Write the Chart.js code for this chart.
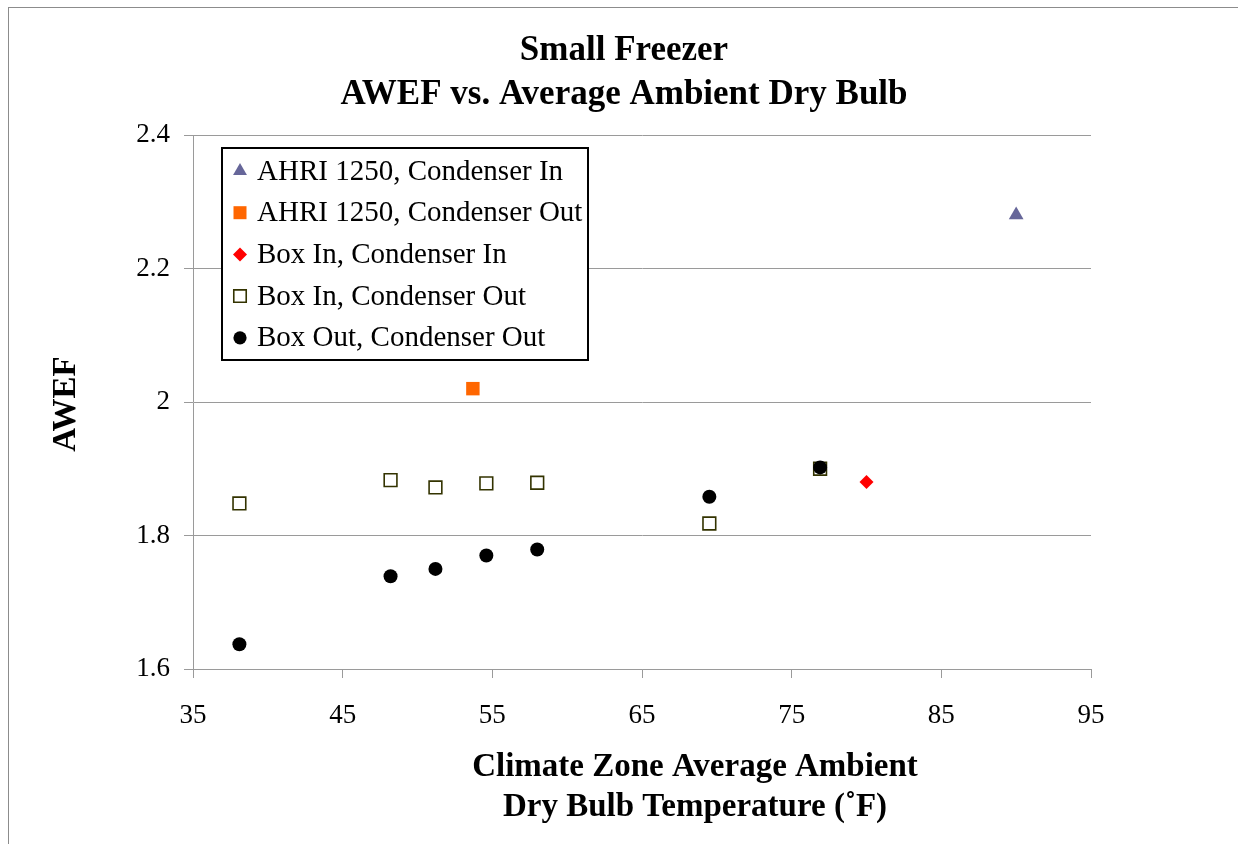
<!DOCTYPE html>
<html>
<head>
<meta charset="utf-8">
<script src="https://cdn.jsdelivr.net/npm/chart.js@4.4.1/dist/chart.umd.min.js"></script>
<style>
  html, body { margin: 0; padding: 0; background: #fff; overflow: hidden; }
  #frame { position: absolute; left: 8px; top: 7px; width: 1300px; height: 900px; border: 1px solid #8c8c8c; }
  #wrap { position: absolute; left: 0; top: 0; width: 1238px; height: 844px; }
</style>
</head>
<body>
<div id="frame"></div>
<div id="wrap"><canvas id="scatterChart" width="1238" height="844"></canvas></div>
<script>
// series values
const ahriInX = [90];
const ahriInY = [2.28];
const ahriOutX = [53.7];
const ahriOutY = [2.02];
const boxInCondInX = [80];
const boxInCondInY = [1.88];
const boxInCondOutX = [38.1, 48.2, 51.2, 54.6, 58.0, 69.5, 76.9];
const boxInCondOutY = [1.848, 1.883, 1.872, 1.878, 1.879, 1.818, 1.900];
const boxOutCondOutX = [38.1, 48.2, 51.2, 54.6, 58.0, 69.5, 76.9];
const boxOutCondOutY = [1.637, 1.739, 1.750, 1.770, 1.779, 1.858, 1.902];

const seriesLabels = [
    'AHRI 1250, Condenser In',
    'AHRI 1250, Condenser Out',
    'Box In, Condenser In',
    'Box In, Condenser Out',
    'Box Out, Condenser Out'
];
const titleLines = ['Small Freezer', 'AWEF vs. Average Ambient Dry Bulb'];
const xTitleLines = ['Climate Zone Average Ambient', 'Dry Bulb Temperature (\u02DAF)'];
const yTitle = 'AWEF';

const toPoints = (xs, ys) => xs.map((x, i) => ({ x: x, y: ys[i] }));

Chart.defaults.font.family = '"Liberation Serif", "Times New Roman", serif';
Chart.defaults.color = '#000';

const gridColor = '#9a9a9a';

const textPlugin = {
    id: 'texts',
    afterDraw(chart) {
        const ctx = chart.ctx;
        const area = chart.chartArea;
        ctx.save();
        ctx.fillStyle = '#000';
        ctx.textAlign = 'center';
        ctx.textBaseline = 'middle';
        ctx.font = 'bold 35px "Liberation Serif"';
        ctx.fillText(titleLines[0], 624, 51);
        ctx.fillText(titleLines[1], 624, 95);
        ctx.font = 'bold 33px "Liberation Serif"';
        ctx.fillText(xTitleLines[0], 695, 767);
        ctx.fillText(xTitleLines[1], 695, 807);
        ctx.save();
        ctx.translate(66, (area.top + area.bottom) / 2 + 2);
        ctx.rotate(-Math.PI / 2);
        ctx.fillText(yTitle, 0, 0);
        ctx.restore();

        // legend box
        const lx = 222, ly = 148, lw = 366, lh = 212;
        ctx.fillStyle = '#fff';
        ctx.fillRect(lx, ly, lw, lh);
        ctx.strokeStyle = '#000';
        ctx.lineWidth = 2;
        ctx.strokeRect(lx, ly, lw, lh);
        ctx.font = '29px "Liberation Serif"';
        ctx.textAlign = 'left';
        chart.data.datasets.forEach((ds, i) => {
            const cy = 171 + i * 41.7;
            ctx.fillStyle = ds.backgroundColor;
            ctx.strokeStyle = ds.borderColor;
            ctx.lineWidth = ds.borderWidth;
            Chart.helpers.drawPoint(ctx, {
                pointStyle: ds.pointStyle,
                radius: ds.legendRadius,
                rotation: 0,
                borderWidth: ds.borderWidth
            }, 240, cy);
            ctx.fillStyle = '#000';
            ctx.fillText(ds.label, 257, cy + 1);
        });
        ctx.restore();
    }
};

const ctx = document.getElementById('scatterChart').getContext('2d');
const chart = new Chart(ctx, {
    type: 'scatter',
    data: {
        datasets: [{
            label: seriesLabels[0],
            data: toPoints(ahriInX, ahriInY),
            pointStyle: 'triangle',
            pointRadius: 8.5,
            legendRadius: 8,
            backgroundColor: '#666699',
            borderColor: '#666699',
            borderWidth: 0,
            order: 2
        }, {
            label: seriesLabels[1],
            data: toPoints(ahriOutX, ahriOutY),
            pointStyle: 'rect',
            pointRadius: 9.5,
            legendRadius: 9.2,
            backgroundColor: '#ff6600',
            borderColor: '#ff6600',
            borderWidth: 0,
            order: 2
        }, {
            label: seriesLabels[2],
            data: toPoints(boxInCondInX, boxInCondInY),
            pointStyle: 'rectRot',
            pointRadius: 7,
            legendRadius: 7,
            backgroundColor: '#ff0000',
            borderColor: '#ff0000',
            borderWidth: 0,
            order: 2
        }, {
            label: seriesLabels[3],
            data: toPoints(boxInCondOutX, boxInCondOutY),
            pointStyle: 'rect',
            pointRadius: 9,
            legendRadius: 8.8,
            backgroundColor: '#ffffff',
            borderColor: '#333300',
            borderWidth: 1.6,
            order: 1
        }, {
            label: seriesLabels[4],
            data: toPoints(boxOutCondOutX, boxOutCondOutY),
            pointStyle: 'circle',
            pointRadius: 7,
            legendRadius: 6.6,
            backgroundColor: '#000000',
            borderColor: '#000000',
            borderWidth: 0,
            order: 0
        }]
    },
    options: {
        responsive: false,
        animation: false,
        layout: { padding: { top: 135, right: 147, left: 0, bottom: 0 } },
        scales: {
            x: {
                type: 'linear',
                position: 'bottom',
                min: 35,
                max: 95,
                afterFit(scale) { scale.height = 175; },
                ticks: { stepSize: 10, padding: 22, font: { size: 27 } },
                grid: { drawOnChartArea: false, drawTicks: true, tickLength: 9, color: gridColor },
                border: { display: true, color: gridColor }
            },
            y: {
                min: 1.6,
                max: 2.4,
                afterFit(scale) { scale.width = 193; },
                ticks: {
                    stepSize: 0.2,
                    padding: 14,
                    font: { size: 27 },
                    callback: (v) => String(Math.round(v * 10) / 10)
                },
                grid: { drawTicks: true, tickLength: 9, color: gridColor },
                border: { display: true, color: gridColor }
            }
        },
        plugins: {
            legend: { display: false },
            tooltip: { enabled: false }
        }
    },
    plugins: [textPlugin]
});
</script>
</body>
</html>
